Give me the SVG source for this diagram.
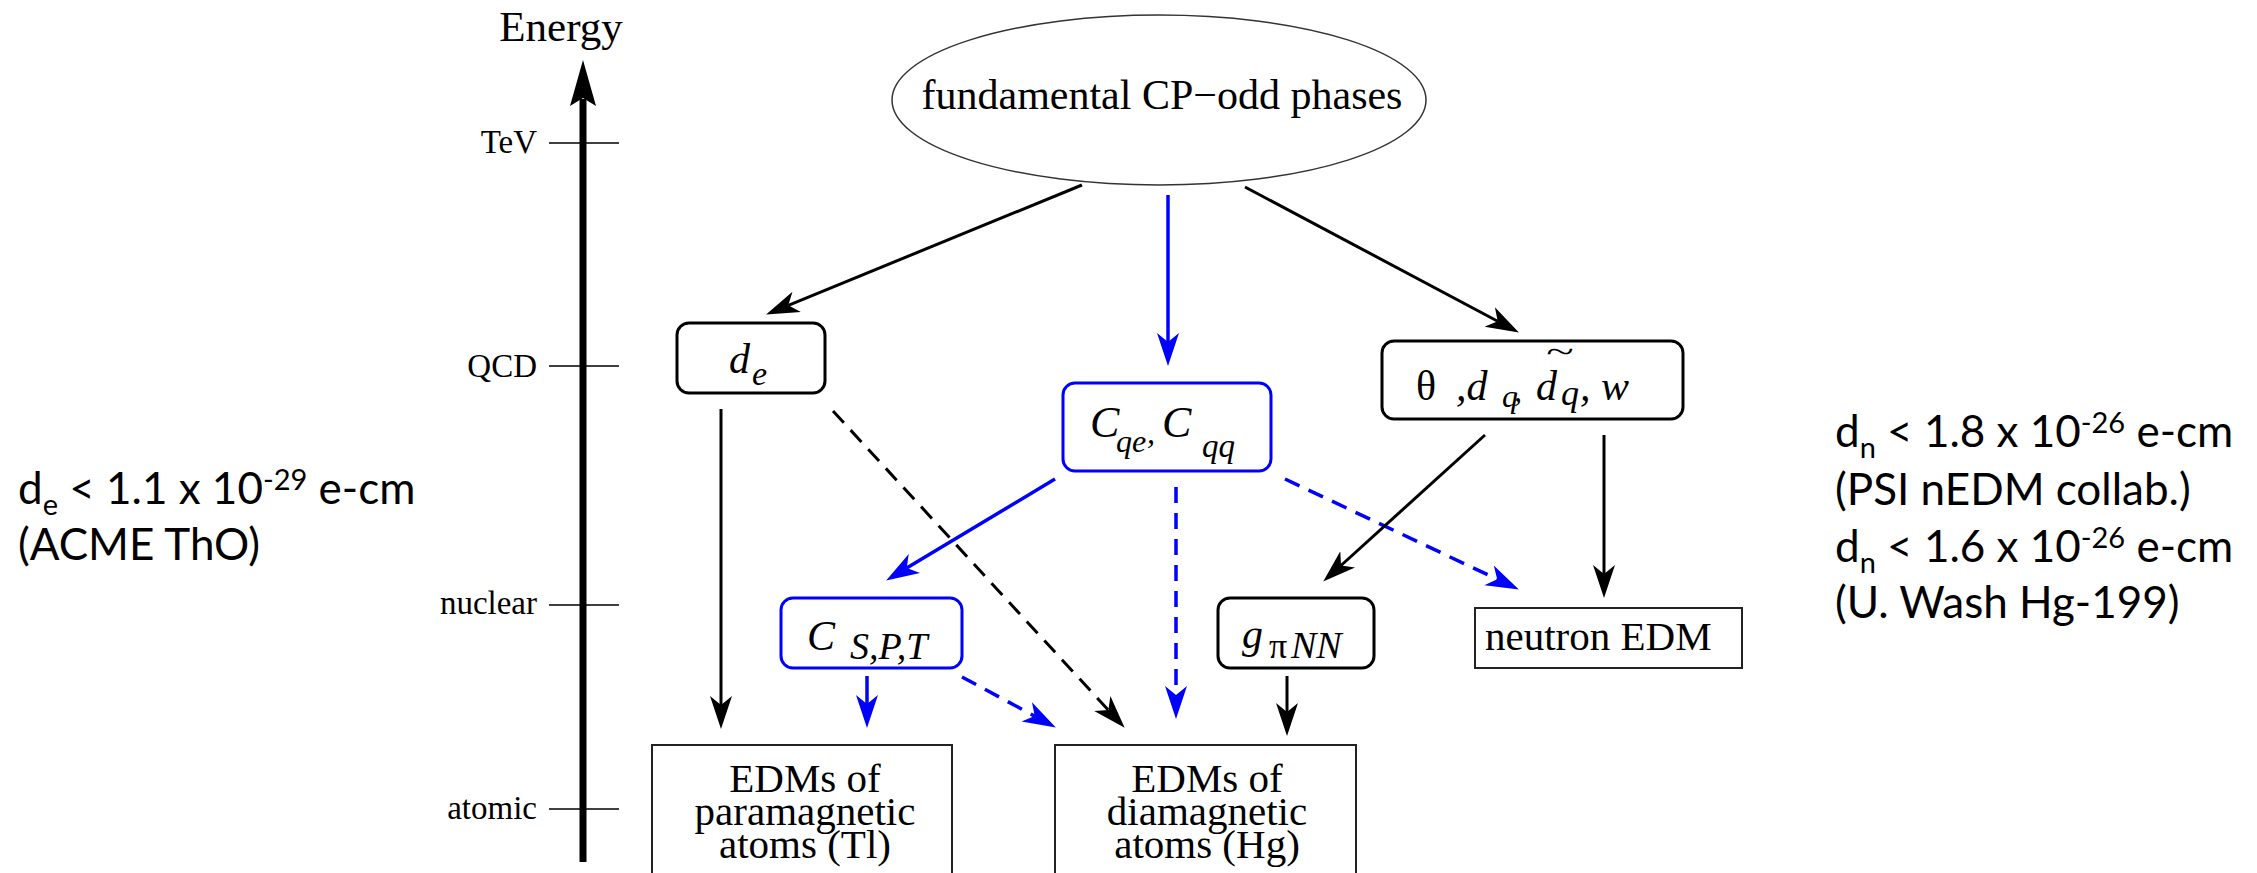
<svg xmlns="http://www.w3.org/2000/svg" width="2257" height="873" viewBox="0 0 2257 873">
<style>
.serif{font-family:"Liberation Serif","Times New Roman",serif;fill:#000}
.it{font-style:italic}
.sans{font-family:Lato,"Open Sans","Liberation Sans",sans-serif;fill:#000}
.ck{stroke:#000;stroke-width:3;fill:none}
.cb{stroke:#0000ff;stroke-width:3.5;fill:none}
.dash{stroke-dasharray:16 10}
.boxk{fill:#fff;stroke:#000;stroke-width:3}
.boxb{fill:#fff;stroke:#0000ff;stroke-width:3}
.boxr{fill:#fff;stroke:#222;stroke-width:2}
.tick{stroke:#000;stroke-width:1.5}
</style>
<defs>
<marker id="ak" markerUnits="userSpaceOnUse" markerWidth="40" markerHeight="26" viewBox="0 -13 40 26" refX="9" refY="0" orient="auto"><path d="M0,-11 L33,0 L0,11 L9,0 Z" fill="#000"/></marker>
<marker id="ab" markerUnits="userSpaceOnUse" markerWidth="40" markerHeight="26" viewBox="0 -13 40 26" refX="9" refY="0" orient="auto"><path d="M0,-11 L33,0 L0,11 L9,0 Z" fill="#0000ff"/></marker>
</defs>
<rect width="2257" height="873" fill="#fff"/>

<g id="energy-axis">
<text class="serif" x="561" y="41" font-size="43" text-anchor="middle">Energy</text>
<line x1="583" y1="862" x2="583" y2="99" stroke="#000" stroke-width="7"/>
<path d="M583,60 L596,106 L583,98 L570,106 Z" fill="#000"/>
<line class="tick" x1="549" y1="143" x2="619" y2="143"/>
<line class="tick" x1="549" y1="366" x2="619" y2="366"/>
<line class="tick" x1="549" y1="605" x2="619" y2="605"/>
<line class="tick" x1="549" y1="809" x2="619" y2="809"/>
<text class="serif" x="537" y="153" font-size="33" text-anchor="end">TeV</text>
<text class="serif" x="537" y="377" font-size="33" text-anchor="end">QCD</text>
<text class="serif" x="537" y="614" font-size="33" text-anchor="end">nuclear</text>
<text class="serif" x="537" y="819" font-size="33" text-anchor="end">atomic</text>
</g>

<g id="connectors">
<line class="ck" x1="1082" y1="185" x2="788.3" y2="305.3" marker-end="url(#ak)"/>
<line class="cb" x1="1168" y1="195" x2="1168" y2="342" marker-end="url(#ab)"/>
<line class="ck" x1="1245" y1="187" x2="1497.7" y2="321.2" marker-end="url(#ak)"/>
<line class="ck" x1="721" y1="409" x2="721" y2="705" marker-end="url(#ak)"/>
<line class="ck dash" x1="833" y1="411" x2="1108.4" y2="710.1" marker-end="url(#ak)"/>
<line class="cb" x1="1055" y1="479" x2="906.7" y2="568.1" marker-end="url(#ab)"/>
<line class="cb dash" x1="1176" y1="487" x2="1176" y2="695" marker-end="url(#ab)"/>
<line class="cb dash" x1="1285" y1="479" x2="1497.2" y2="579.2" marker-end="url(#ab)"/>
<line class="ck" x1="1485" y1="435" x2="1341" y2="565.5" marker-end="url(#ak)"/>
<line class="ck" x1="1604" y1="435" x2="1604" y2="574" marker-end="url(#ak)"/>
<line class="cb" x1="867" y1="676" x2="867" y2="704" marker-end="url(#ab)"/>
<line class="cb dash" x1="962" y1="677" x2="1034.7" y2="716.1" marker-end="url(#ab)"/>
<line class="ck" x1="1287" y1="676" x2="1287" y2="712" marker-end="url(#ak)"/>
</g>

<g id="node-phases">
<ellipse cx="1159" cy="100" rx="267" ry="85" fill="#fff" stroke="#333" stroke-width="1.5"/>
<text class="serif" x="1162" y="109" font-size="42" text-anchor="middle">fundamental CP−odd phases</text>
</g>

<g id="node-de">
<rect class="boxk" x="677" y="323" width="148" height="70" rx="12"/>
<text class="serif it" font-size="42"><tspan x="729" y="373">d</tspan><tspan x="752" y="385" font-size="34">e</tspan></text>
</g>

<g id="node-cqe">
<rect class="boxb" x="1063" y="383" width="208" height="88" rx="12"/>
<text class="serif it" font-size="44"><tspan x="1090" y="437">C</tspan><tspan x="1116" y="452" font-size="32">qe</tspan><tspan x="1147" y="443" font-size="32">,</tspan><tspan x="1162" y="437">C</tspan><tspan x="1202" y="457" font-size="33">qq</tspan></text>
</g>

<g id="node-theta">
<rect class="boxk" x="1382" y="341" width="301" height="78" rx="12"/>
<text class="serif" x="1416" y="400" font-size="42">θ</text>
<text class="serif it" font-size="42"><tspan x="1456" y="400">,d</tspan><tspan x="1502" y="407" font-size="32">q</tspan><tspan x="1514" y="401" font-size="32">,</tspan><tspan x="1536" y="400">d</tspan><tspan x="1561" y="405" font-size="36">q</tspan><tspan x="1580" y="400">, w</tspan></text>
<text class="serif" transform="translate(1560,362) scale(1.7,1)" font-size="30" text-anchor="middle">~</text>
</g>

<g id="node-cspt">
<rect class="boxb" x="781" y="598" width="181" height="70" rx="12"/>
<text class="serif it" font-size="42"><tspan x="807" y="650">C</tspan><tspan x="850" y="659" font-size="38">S,P,T</tspan></text>
</g>

<g id="node-gpinn">
<rect class="boxk" x="1218" y="598" width="156" height="70" rx="12"/>
<text class="serif it" font-size="42"><tspan x="1242" y="648">g</tspan></text>
<text class="serif" x="1269" y="658" font-size="36">π</text>
<text class="serif it" x="1291" y="658" font-size="38">NN</text>
</g>

<g id="node-neutron">
<rect class="boxr" x="1475" y="608" width="267" height="60"/>
<text class="serif" x="1485" y="650" font-size="41">neutron EDM</text>
</g>

<g id="node-para">
<rect class="boxr" x="652" y="745" width="300" height="140"/>
<text class="serif" font-size="41" text-anchor="middle"><tspan x="805" y="792">EDMs of</tspan><tspan x="805" y="825">paramagnetic</tspan><tspan x="805" y="858">atoms (Tl)</tspan></text>
</g>

<g id="node-dia">
<rect class="boxr" x="1055" y="745" width="301" height="140"/>
<text class="serif" font-size="41" text-anchor="middle"><tspan x="1207" y="792">EDMs of</tspan><tspan x="1207" y="825">diamagnetic</tspan><tspan x="1207" y="858">atoms (Hg)</tspan></text>
</g>

<g id="note-electron">
<text class="sans" font-size="44"><tspan x="18" y="504">d</tspan><tspan font-size="29" dy="11">e</tspan><tspan dy="-11"> &lt; 1.1 x 10</tspan><tspan font-size="29" dy="-14">-29</tspan><tspan dy="14"> e-cm</tspan></text>
<text class="sans" x="18" y="560" font-size="44">(ACME ThO)</text>
</g>

<g id="note-neutron">
<text class="sans" font-size="44"><tspan x="1835" y="447">d</tspan><tspan font-size="29" dy="11">n</tspan><tspan dy="-11"> &lt; 1.8 x 10</tspan><tspan font-size="29" dy="-14">-26</tspan><tspan dy="14"> e-cm</tspan></text>
<text class="sans" x="1835" y="505" font-size="44">(PSI nEDM collab.)</text>
<text class="sans" font-size="44"><tspan x="1835" y="562">d</tspan><tspan font-size="29" dy="11">n</tspan><tspan dy="-11"> &lt; 1.6 x 10</tspan><tspan font-size="29" dy="-14">-26</tspan><tspan dy="14"> e-cm</tspan></text>
<text class="sans" x="1835" y="618" font-size="44">(U. Wash Hg-199)</text>
</g>
</svg>
